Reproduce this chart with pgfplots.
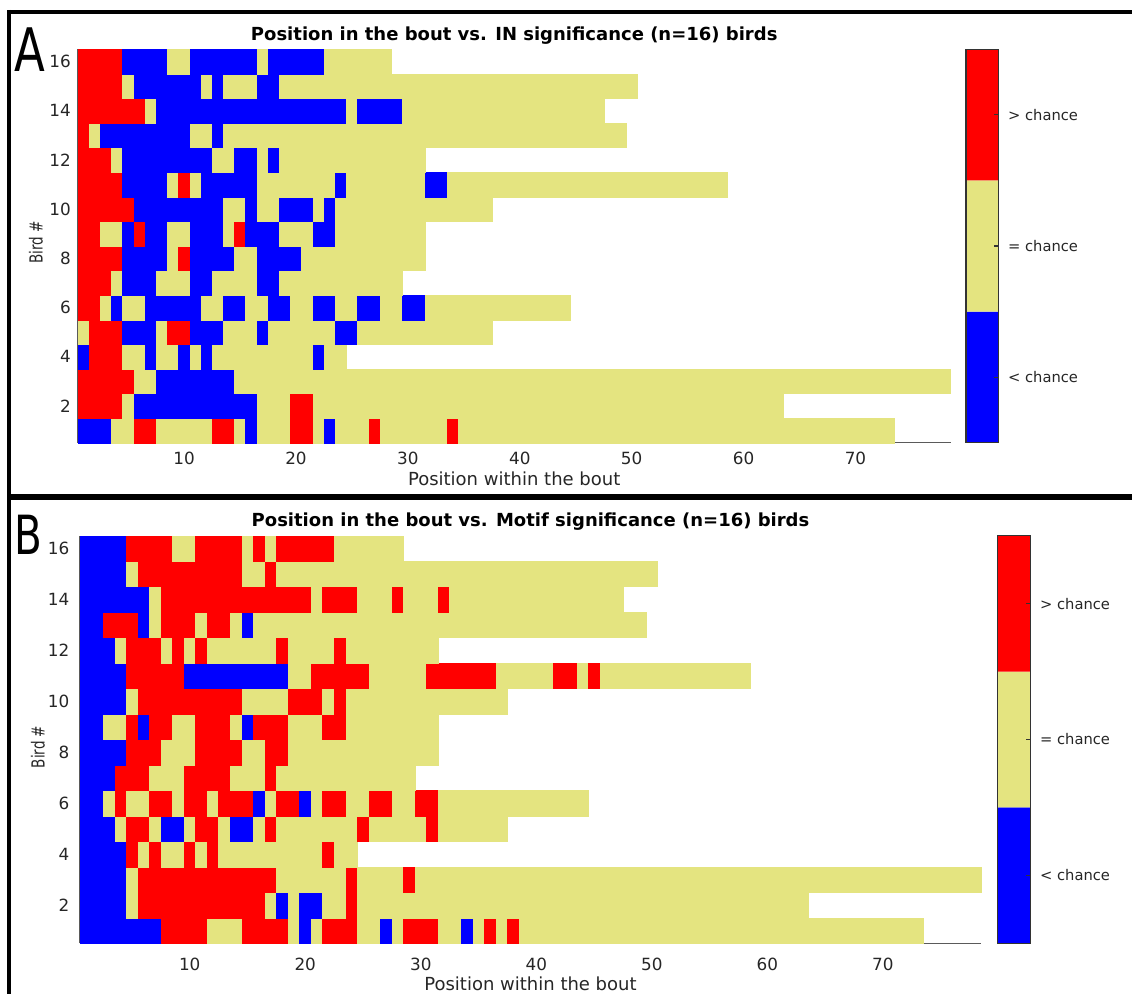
\documentclass[border=0pt]{standalone}
\usepackage{pgfplots}
\usepackage{pgfplotstable}
\usepackage{fontspec}
\pgfplotsset{compat=1.18}
\setmainfont{DejaVu Sans}
\newfontfamily\condsans{DejaVu Sans}[FakeStretch=0.75]

\definecolor{labgray}{RGB}{38,38,38}
\definecolor{axgray}{RGB}{90,90,90}
\definecolor{cbgray}{RGB}{51,51,51}
\definecolor{sigblue}{RGB}{0,0,255}
\definecolor{sigyellow}{RGB}{228,228,128}
\definecolor{sigred}{RGB}{255,0,0}

% one cell of each map, sized to one x unit by one y unit of its axis
\pgfdeclareplotmark{cellA}{%
  \pgfpathrectangle{\pgfqpoint{-2.797pt}{-6.147pt}}{\pgfqpoint{5.594pt}{12.294pt}}%
  \pgfusepathqfillstroke}
\pgfdeclareplotmark{cellB}{%
  \pgfpathrectangle{\pgfqpoint{-2.888pt}{-6.369pt}}{\pgfqpoint{5.776pt}{12.738pt}}%
  \pgfusepathqfillstroke}

% significance per bird (rows) and position in the bout (columns):
% 1 = above chance, 0 = at chance, -1 = below chance, nan = bout already over
\pgfplotstableread{
bird 1 2 3 4 5 6 7 8 9 10 11 12 13 14 15 16 17 18 19 20 21 22 23 24 25 26 27 28 29 30 31 32 33 34 35 36 37 38 39 40 41 42 43 44 45 46 47 48 49 50 51 52 53 54 55 56 57 58 59 60 61 62 63 64 65 66 67 68 69 70 71 72 73 74 75 76 77 78
b1 -1 -1 -1 0 0 1 1 0 0 0  0 0 1 1 0 -1 0 0 0 1  1 0 -1 0 0 0 1 0 0 0  0 0 0 1 0 0 0 0 0 0  0 0 0 0 0 0 0 0 0 0  0 0 0 0 0 0 0 0 0 0  0 0 0 0 0 0 0 0 0 0  0 0 0 nan nan nan nan nan
b2 1 1 1 1 0 -1 -1 -1 -1 -1  -1 -1 -1 -1 -1 -1 0 0 0 1  1 0 0 0 0 0 0 0 0 0  0 0 0 0 0 0 0 0 0 0  0 0 0 0 0 0 0 0 0 0  0 0 0 0 0 0 0 0 0 0  0 0 0 nan nan nan nan nan nan nan  nan nan nan nan nan nan nan nan
b3 1 1 1 1 1 0 0 -1 -1 -1  -1 -1 -1 -1 0 0 0 0 0 0  0 0 0 0 0 0 0 0 0 0  0 0 0 0 0 0 0 0 0 0  0 0 0 0 0 0 0 0 0 0  0 0 0 0 0 0 0 0 0 0  0 0 0 0 0 0 0 0 0 0  0 0 0 0 0 0 0 0
b4 -1 1 1 1 0 0 -1 0 0 -1  0 -1 0 0 0 0 0 0 0 0  0 -1 0 0 nan nan nan nan nan nan  nan nan nan nan nan nan nan nan nan nan  nan nan nan nan nan nan nan nan nan nan  nan nan nan nan nan nan nan nan nan nan  nan nan nan nan nan nan nan nan nan nan  nan nan nan nan nan nan nan nan
b5 0 1 1 1 -1 -1 -1 0 1 1  -1 -1 -1 0 0 0 -1 0 0 0  0 0 0 -1 -1 0 0 0 0 0  0 0 0 0 0 0 0 nan nan nan  nan nan nan nan nan nan nan nan nan nan  nan nan nan nan nan nan nan nan nan nan  nan nan nan nan nan nan nan nan nan nan  nan nan nan nan nan nan nan nan
b6 1 1 0 -1 0 0 -1 -1 -1 -1  -1 0 0 -1 -1 0 0 -1 -1 0  0 -1 -1 0 0 -1 -1 0 0 -1  -1 0 0 0 0 0 0 0 0 0  0 0 0 0 nan nan nan nan nan nan  nan nan nan nan nan nan nan nan nan nan  nan nan nan nan nan nan nan nan nan nan  nan nan nan nan nan nan nan nan
b7 1 1 1 0 -1 -1 -1 0 0 0  -1 -1 0 0 0 0 -1 -1 0 0  0 0 0 0 0 0 0 0 0 nan  nan nan nan nan nan nan nan nan nan nan  nan nan nan nan nan nan nan nan nan nan  nan nan nan nan nan nan nan nan nan nan  nan nan nan nan nan nan nan nan nan nan  nan nan nan nan nan nan nan nan
b8 1 1 1 1 -1 -1 -1 -1 0 1  -1 -1 -1 -1 0 0 -1 -1 -1 -1  0 0 0 0 0 0 0 0 0 0  0 nan nan nan nan nan nan nan nan nan  nan nan nan nan nan nan nan nan nan nan  nan nan nan nan nan nan nan nan nan nan  nan nan nan nan nan nan nan nan nan nan  nan nan nan nan nan nan nan nan
b9 1 1 0 0 -1 1 -1 -1 0 0  -1 -1 -1 0 1 -1 -1 -1 0 0  0 -1 -1 0 0 0 0 0 0 0  0 nan nan nan nan nan nan nan nan nan  nan nan nan nan nan nan nan nan nan nan  nan nan nan nan nan nan nan nan nan nan  nan nan nan nan nan nan nan nan nan nan  nan nan nan nan nan nan nan nan
b10 1 1 1 1 1 -1 -1 -1 -1 -1  -1 -1 -1 0 0 -1 0 0 -1 -1  -1 0 -1 0 0 0 0 0 0 0  0 0 0 0 0 0 0 nan nan nan  nan nan nan nan nan nan nan nan nan nan  nan nan nan nan nan nan nan nan nan nan  nan nan nan nan nan nan nan nan nan nan  nan nan nan nan nan nan nan nan
b11 1 1 1 1 -1 -1 -1 -1 0 1  0 -1 -1 -1 -1 -1 0 0 0 0  0 0 0 -1 0 0 0 0 0 0  0 -1 -1 0 0 0 0 0 0 0  0 0 0 0 0 0 0 0 0 0  0 0 0 0 0 0 0 0 nan nan  nan nan nan nan nan nan nan nan nan nan  nan nan nan nan nan nan nan nan
b12 1 1 1 0 -1 -1 -1 -1 -1 -1  -1 -1 0 0 -1 -1 0 -1 0 0  0 0 0 0 0 0 0 0 0 0  0 nan nan nan nan nan nan nan nan nan  nan nan nan nan nan nan nan nan nan nan  nan nan nan nan nan nan nan nan nan nan  nan nan nan nan nan nan nan nan nan nan  nan nan nan nan nan nan nan nan
b13 1 0 -1 -1 -1 -1 -1 -1 -1 -1  0 0 -1 0 0 0 0 0 0 0  0 0 0 0 0 0 0 0 0 0  0 0 0 0 0 0 0 0 0 0  0 0 0 0 0 0 0 0 0 nan  nan nan nan nan nan nan nan nan nan nan  nan nan nan nan nan nan nan nan nan nan  nan nan nan nan nan nan nan nan
b14 1 1 1 1 1 1 0 -1 -1 -1  -1 -1 -1 -1 -1 -1 -1 -1 -1 -1  -1 -1 -1 -1 0 -1 -1 -1 -1 0  0 0 0 0 0 0 0 0 0 0  0 0 0 0 0 0 0 nan nan nan  nan nan nan nan nan nan nan nan nan nan  nan nan nan nan nan nan nan nan nan nan  nan nan nan nan nan nan nan nan
b15 1 1 1 1 0 -1 -1 -1 -1 -1  -1 0 -1 0 0 0 -1 -1 0 0  0 0 0 0 0 0 0 0 0 0  0 0 0 0 0 0 0 0 0 0  0 0 0 0 0 0 0 0 0 0  nan nan nan nan nan nan nan nan nan nan  nan nan nan nan nan nan nan nan nan nan  nan nan nan nan nan nan nan nan
b16 1 1 1 1 -1 -1 -1 -1 0 0  -1 -1 -1 -1 -1 -1 0 -1 -1 -1  -1 -1 0 0 0 0 0 0 nan nan  nan nan nan nan nan nan nan nan nan nan  nan nan nan nan nan nan nan nan nan nan  nan nan nan nan nan nan nan nan nan nan  nan nan nan nan nan nan nan nan nan nan  nan nan nan nan nan nan nan nan
}\rawIN

\pgfplotstableread{
bird 1 2 3 4 5 6 7 8 9 10 11 12 13 14 15 16 17 18 19 20 21 22 23 24 25 26 27 28 29 30 31 32 33 34 35 36 37 38 39 40 41 42 43 44 45 46 47 48 49 50 51 52 53 54 55 56 57 58 59 60 61 62 63 64 65 66 67 68 69 70 71 72 73 74 75 76 77 78
b1 -1 -1 -1 -1 -1 -1 -1 1 1 1  1 0 0 0 1 1 1 1 0 -1  0 1 1 1 0 0 -1 0 1 1  1 0 0 -1 0 1 0 1 0 0  0 0 0 0 0 0 0 0 0 0  0 0 0 0 0 0 0 0 0 0  0 0 0 0 0 0 0 0 0 0  0 0 0 nan nan nan nan nan
b2 -1 -1 -1 -1 0 1 1 1 1 1  1 1 1 1 1 1 0 -1 0 -1  -1 0 0 1 0 0 0 0 0 0  0 0 0 0 0 0 0 0 0 0  0 0 0 0 0 0 0 0 0 0  0 0 0 0 0 0 0 0 0 0  0 0 0 nan nan nan nan nan nan nan  nan nan nan nan nan nan nan nan
b3 -1 -1 -1 -1 0 1 1 1 1 1  1 1 1 1 1 1 1 0 0 0  0 0 0 1 0 0 0 0 1 0  0 0 0 0 0 0 0 0 0 0  0 0 0 0 0 0 0 0 0 0  0 0 0 0 0 0 0 0 0 0  0 0 0 0 0 0 0 0 0 0  0 0 0 0 0 0 0 0
b4 -1 -1 -1 -1 1 0 1 0 0 1  0 1 0 0 0 0 0 0 0 0  0 1 0 0 nan nan nan nan nan nan  nan nan nan nan nan nan nan nan nan nan  nan nan nan nan nan nan nan nan nan nan  nan nan nan nan nan nan nan nan nan nan  nan nan nan nan nan nan nan nan nan nan  nan nan nan nan nan nan nan nan
b5 -1 -1 -1 0 1 1 0 -1 -1 0  1 1 0 -1 -1 0 1 0 0 0  0 0 0 0 1 0 0 0 0 0  1 0 0 0 0 0 0 nan nan nan  nan nan nan nan nan nan nan nan nan nan  nan nan nan nan nan nan nan nan nan nan  nan nan nan nan nan nan nan nan nan nan  nan nan nan nan nan nan nan nan
b6 -1 -1 0 1 0 0 1 1 0 1  1 0 1 1 1 -1 0 1 1 -1  0 1 1 0 0 1 1 0 0 1  1 0 0 0 0 0 0 0 0 0  0 0 0 0 nan nan nan nan nan nan  nan nan nan nan nan nan nan nan nan nan  nan nan nan nan nan nan nan nan nan nan  nan nan nan nan nan nan nan nan
b7 -1 -1 -1 1 1 1 0 0 0 1  1 1 1 0 0 0 1 0 0 0  0 0 0 0 0 0 0 0 0 nan  nan nan nan nan nan nan nan nan nan nan  nan nan nan nan nan nan nan nan nan nan  nan nan nan nan nan nan nan nan nan nan  nan nan nan nan nan nan nan nan nan nan  nan nan nan nan nan nan nan nan
b8 -1 -1 -1 -1 1 1 1 0 0 0  1 1 1 1 0 0 1 1 0 0  0 0 0 0 0 0 0 0 0 0  0 nan nan nan nan nan nan nan nan nan  nan nan nan nan nan nan nan nan nan nan  nan nan nan nan nan nan nan nan nan nan  nan nan nan nan nan nan nan nan nan nan  nan nan nan nan nan nan nan nan
b9 -1 -1 0 0 1 -1 1 1 0 0  1 1 1 0 -1 1 1 1 0 0  0 1 1 0 0 0 0 0 0 0  0 nan nan nan nan nan nan nan nan nan  nan nan nan nan nan nan nan nan nan nan  nan nan nan nan nan nan nan nan nan nan  nan nan nan nan nan nan nan nan nan nan  nan nan nan nan nan nan nan nan
b10 -1 -1 -1 -1 0 1 1 1 1 1  1 1 1 1 0 0 0 0 1 1  1 0 1 0 0 0 0 0 0 0  0 0 0 0 0 0 0 nan nan nan  nan nan nan nan nan nan nan nan nan nan  nan nan nan nan nan nan nan nan nan nan  nan nan nan nan nan nan nan nan nan nan  nan nan nan nan nan nan nan nan
b11 -1 -1 -1 -1 1 1 1 1 1 -1  -1 -1 -1 -1 -1 -1 -1 -1 0 0  1 1 1 1 1 0 0 0 0 0  1 1 1 1 1 1 0 0 0 0  0 1 1 0 1 0 0 0 0 0  0 0 0 0 0 0 0 0 nan nan  nan nan nan nan nan nan nan nan nan nan  nan nan nan nan nan nan nan nan
b12 -1 -1 -1 0 1 1 1 0 1 0  1 0 0 0 0 0 0 1 0 0  0 0 1 0 0 0 0 0 0 0  0 nan nan nan nan nan nan nan nan nan  nan nan nan nan nan nan nan nan nan nan  nan nan nan nan nan nan nan nan nan nan  nan nan nan nan nan nan nan nan nan nan  nan nan nan nan nan nan nan nan
b13 -1 -1 1 1 1 -1 0 1 1 1  0 1 1 0 -1 0 0 0 0 0  0 0 0 0 0 0 0 0 0 0  0 0 0 0 0 0 0 0 0 0  0 0 0 0 0 0 0 0 0 nan  nan nan nan nan nan nan nan nan nan nan  nan nan nan nan nan nan nan nan nan nan  nan nan nan nan nan nan nan nan
b14 -1 -1 -1 -1 -1 -1 0 1 1 1  1 1 1 1 1 1 1 1 1 1  0 1 1 1 0 0 0 1 0 0  0 1 0 0 0 0 0 0 0 0  0 0 0 0 0 0 0 nan nan nan  nan nan nan nan nan nan nan nan nan nan  nan nan nan nan nan nan nan nan nan nan  nan nan nan nan nan nan nan nan
b15 -1 -1 -1 -1 0 1 1 1 1 1  1 1 1 1 0 0 1 0 0 0  0 0 0 0 0 0 0 0 0 0  0 0 0 0 0 0 0 0 0 0  0 0 0 0 0 0 0 0 0 0  nan nan nan nan nan nan nan nan nan nan  nan nan nan nan nan nan nan nan nan nan  nan nan nan nan nan nan nan nan
b16 -1 -1 -1 -1 1 1 1 1 0 0  1 1 1 1 0 1 0 1 1 1  1 1 0 0 0 0 0 0 nan nan  nan nan nan nan nan nan nan nan nan nan  nan nan nan nan nan nan nan nan nan nan  nan nan nan nan nan nan nan nan nan nan  nan nan nan nan nan nan nan nan nan nan  nan nan nan nan nan nan nan nan
}\rawMotif

% one column per bird, one row per position in the bout
\pgfplotstabletranspose[colnames from=bird, input colnames to=pos]\dataIN{\rawIN}
\pgfplotstabletranspose[colnames from=bird, input colnames to=pos]\dataMotif{\rawMotif}

% #1 cell mark, #2 table, #3 bird, #4 length of that bird's bout
\newcommand\birdrow[4]{%
  \addplot[scatter, only marks, mark=#1, line width=0.15pt,
    scatter/use mapped color={draw=mapped color, fill=mapped color},
    point meta=explicit, restrict x to domain=0:#4.5]
    table[x=pos, y expr=#3, meta=b#3] {#2};}

\pgfplotsset{
  heat/.style={
    scale only axis, anchor=south west,
    xmin=0.5, xmax=78.5, ymin=0.5, ymax=16.5,
    axis x line*=bottom, axis y line*=left,
    axis line style={draw=axgray, line width=0.6pt},
    xtick={10,20,...,70}, ytick={2,4,...,16},
    major tick length=0pt,
    tick label style={font=\fontsize{8.4}{10}\selectfont, text=labgray},
    /pgf/number format/assume math mode=true,
    colormap={chance}{rgb255=(0,0,255) rgb255=(228,228,128) rgb255=(255,0,0)},
    point meta min=-1, point meta max=1,
    filter discard warning=false,
    every axis title shift=0pt,
    title style={font=\bfseries\fontsize{9}{10}\selectfont, anchor=base},
    xlabel style={font=\fontsize{9}{10}\selectfont, text=labgray, anchor=base},
    ylabel style={font=\condsans\fontsize{9}{10}\selectfont, text=labgray, anchor=center},
  },
  cbar/.style={
    scale only axis, anchor=south west,
    xmin=0, xmax=1, ymin=0, ymax=3,
    xtick=\empty, ytick={0.5,1.5,2.5},
    yticklabels={{< chance},{= chance},{> chance}},
    ytick pos=right, yticklabel pos=right,
    tick align=inside, major tick length=2.4pt,
    major tick style={draw=cbgray, line width=0.6pt},
    axis line style={draw=cbgray, line width=0.7pt},
    axis on top,
    yticklabel style={font=\fontsize{7.35}{9}\selectfont, text=labgray, xshift=1.2pt},
  },
}

\begin{document}
\begin{tikzpicture}
\path[use as bounding box] (0pt,0pt) rectangle (566pt,497pt);

% panel frames
\draw[line width=2pt] (3.5pt,491pt) -- (566pt,491pt);
\draw[line width=2pt] (4.65pt,492pt) -- (4.65pt,248.5pt);
\draw[line width=3pt] (3.5pt,248.5pt) -- (566pt,248.5pt);
\draw[line width=2pt] (4.65pt,248.5pt) -- (4.65pt,0pt);

\node[font=\condsans\fontsize{30}{30}\selectfont, inner sep=0pt] at (15pt,472pt) {A};
\node[font=\condsans\fontsize{27}{27}\selectfont, inner sep=0pt] at (14.25pt,229.75pt) {B};

% ---- A: IN significance ----
\begin{axis}[heat, at={(38.9pt,275.65pt)}, width=436.4pt, height=196.7pt,
  title={Position in the bout vs. IN significance (n=16) birds},
  title style={at={(axis description cs:0.5,1.0211)}},
  xlabel={Position within the bout},
  xlabel style={at={(axis description cs:0.5,-0.110)}},
  ylabel={Bird \#},
  ylabel style={at={(axis description cs:-0.0479,0.509)}},
  xticklabel style={yshift=-1.35pt},
]
\birdrow{cellA}{\dataIN}{1}{73}
\birdrow{cellA}{\dataIN}{2}{63}
\birdrow{cellA}{\dataIN}{3}{78}
\birdrow{cellA}{\dataIN}{4}{24}
\birdrow{cellA}{\dataIN}{5}{37}
\birdrow{cellA}{\dataIN}{6}{44}
\birdrow{cellA}{\dataIN}{7}{29}
\birdrow{cellA}{\dataIN}{8}{31}
\birdrow{cellA}{\dataIN}{9}{31}
\birdrow{cellA}{\dataIN}{10}{37}
\birdrow{cellA}{\dataIN}{11}{58}
\birdrow{cellA}{\dataIN}{12}{31}
\birdrow{cellA}{\dataIN}{13}{49}
\birdrow{cellA}{\dataIN}{14}{47}
\birdrow{cellA}{\dataIN}{15}{50}
\birdrow{cellA}{\dataIN}{16}{28}
\end{axis}

\begin{axis}[cbar, at={(483pt,275.65pt)}, width=16.35pt, height=196.7pt]
\addplot[draw=none, fill=sigblue] coordinates {(0,0) (1,0) (1,1) (0,1) (0,0)};
\addplot[draw=none, fill=sigyellow] coordinates {(0,1) (1,1) (1,2) (0,2) (0,1)};
\addplot[draw=none, fill=sigred] coordinates {(0,2) (1,2) (1,3) (0,3) (0,2)};
\end{axis}

% ---- B: motif significance ----
\begin{axis}[heat, at={(40pt,25.35pt)}, width=450.5pt, height=203.8pt,
  title={Position in the bout vs. Motif significance (n=16) birds},
  title style={at={(axis description cs:0.5,1.0214)}},
  xlabel={Position within the bout},
  xlabel style={at={(axis description cs:0.5,-0.117)}},
  ylabel={Bird \#},
  ylabel style={at={(axis description cs:-0.0466,0.4816)}},
  xticklabel style={yshift=-3.95pt},
  yticklabel style={xshift=-1.8pt},
]
\birdrow{cellB}{\dataMotif}{1}{73}
\birdrow{cellB}{\dataMotif}{2}{63}
\birdrow{cellB}{\dataMotif}{3}{78}
\birdrow{cellB}{\dataMotif}{4}{24}
\birdrow{cellB}{\dataMotif}{5}{37}
\birdrow{cellB}{\dataMotif}{6}{44}
\birdrow{cellB}{\dataMotif}{7}{29}
\birdrow{cellB}{\dataMotif}{8}{31}
\birdrow{cellB}{\dataMotif}{9}{31}
\birdrow{cellB}{\dataMotif}{10}{37}
\birdrow{cellB}{\dataMotif}{11}{58}
\birdrow{cellB}{\dataMotif}{12}{31}
\birdrow{cellB}{\dataMotif}{13}{49}
\birdrow{cellB}{\dataMotif}{14}{47}
\birdrow{cellB}{\dataMotif}{15}{50}
\birdrow{cellB}{\dataMotif}{16}{28}
\end{axis}

\begin{axis}[cbar, at={(498.65pt,25.35pt)}, width=16.7pt, height=203.8pt]
\addplot[draw=none, fill=sigblue] coordinates {(0,0) (1,0) (1,1) (0,1) (0,0)};
\addplot[draw=none, fill=sigyellow] coordinates {(0,1) (1,1) (1,2) (0,2) (0,1)};
\addplot[draw=none, fill=sigred] coordinates {(0,2) (1,2) (1,3) (0,3) (0,2)};
\end{axis}
\end{tikzpicture}
\end{document}
